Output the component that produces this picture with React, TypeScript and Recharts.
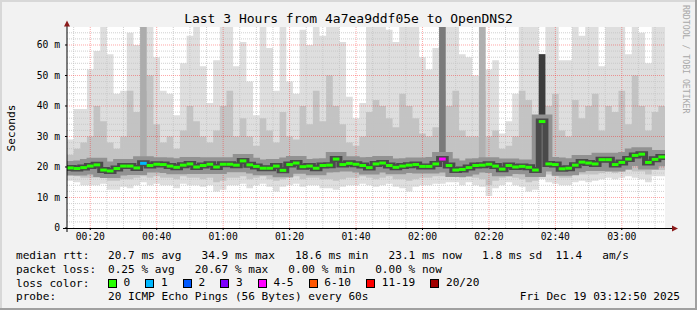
import React from 'react';
import {
  ComposedChart,
  Area,
  Line,
  XAxis,
  YAxis,
  CartesianGrid,
  ReferenceLine,
  ReferenceArea,
} from 'recharts';

// minutes since 00:00 of first sample, sample step (minutes)
const START_MIN = 13;
const STEP_MIN = 2;

const median = [
  19.7, 19.5, 19.8, 20.3, 20.7, 19.0, 18.7, 19.5, 20.3, 20.3,
  19.7, 21.2, 20.5, 20.9, 20.8, 20.3, 19.9, 20.6, 21.0, 20.0,
  20.5, 20.9, 20.0, 20.9, 20.9, 20.6, 22.0, 20.7, 20.2, 19.6,
  19.6, 20.3, 18.9, 20.8, 21.3, 20.1, 20.3, 19.6, 20.5, 20.6,
  22.6, 20.8, 21.2, 20.9, 20.5, 19.8, 21.0, 21.3, 20.5, 19.9,
  20.3, 20.6, 20.8, 20.2, 20.2, 21.0, 22.6, 20.5, 19.0, 19.2,
  19.8, 20.5, 20.6, 20.9, 20.3, 19.3, 20.5, 20.0, 20.2, 19.9,
  19.0, 34.9, 21.0, 20.8, 19.4, 19.6, 20.6, 21.6, 21.3, 21.0,
  22.4, 22.4, 20.8, 21.5, 22.6, 23.8, 24.2, 21.5, 22.5, 23.3,
];

const smokeMax = [
  29, 39, 39, 52, 58, 66, 57, 44, 45, 64,
  60, 66, 66, 56, 45, 44, 37, 54, 63, 66,
  53, 41, 55, 66, 66, 53, 61, 48, 37, 66,
  59, 45, 66, 48, 44, 65, 60, 66, 63, 66,
  66, 61, 43, 36, 41, 66, 66, 66, 65, 61,
  66, 66, 66, 56, 52, 59, 66, 66, 66, 57,
  56, 50, 66, 52, 55, 31, 35, 44, 66, 66,
  66, 57, 66, 66, 55, 55, 66, 63, 66, 66,
  53, 66, 66, 66, 57, 66, 64, 54, 66, 66,
];

const smokeHigh = [
  24, 26, 28, 30, 40, 35, 28, 26, 30, 45,
  38, 45, 50, 34, 28, 30, 26, 32, 40, 35,
  30, 28, 32, 40, 45, 30, 36, 30, 27, 36,
  32, 28, 38, 30, 29, 40, 34, 45, 35, 50,
  40, 34, 28, 27, 30, 38, 42, 40, 36, 33,
  44, 40, 36, 31, 30, 33, 45, 40, 45, 32,
  30, 30, 45, 30, 32, 26, 27, 30, 45, 42,
  36, 50, 40, 44, 32, 30, 42, 36, 40, 44,
  32, 40, 38, 45, 34, 50, 40, 32, 38, 40,
];

const smokeLow = [
  17.5, 17, 16.5, 16.5, 16.5, 16.5, 15.5, 15.5, 16, 16,
  16.5, 17, 16.5, 17, 16.5, 16.5, 16, 17, 16.5, 16.5,
  16, 16.5, 15, 15.5, 16.5, 16.5, 17, 16, 16.5, 17,
  16, 15.5, 16, 16.5, 17, 16, 16.5, 16.5, 16, 16,
  15.5, 16, 16.5, 16.5, 17, 16.5, 16, 16.5, 17, 16,
  16, 15.5, 16, 16.5, 16.5, 17, 17, 17.5, 17, 16.5,
  17, 16.5, 16, 14, 15.5, 16.5, 17, 16.5, 16, 15,
  15.5, 18, 17.5, 17, 16.5, 16.5, 17.5, 17.5, 17.5, 17.5,
  18, 18.5, 18, 18.5, 19, 18.5, 18.5, 17.5, 19, 19,
];

const smokeMin = [
  15.5, 15, 14, 14, 14, 14.5, 12.5, 12.5, 13.5, 13,
  14, 15, 14, 14.5, 14, 14, 13, 14.5, 14, 14,
  13.5, 14, 12, 12.5, 14, 14, 14.5, 13, 14, 14.5,
  13.5, 12, 13.5, 14, 14.5, 13.5, 14, 14, 13, 13,
  12.5, 13.5, 14, 14, 14.5, 14, 13.5, 14, 14.5, 13.5,
  13, 12, 13.5, 14, 14, 14.5, 14.5, 15, 15, 14,
  15, 14, 13.5, 10.5, 13, 14, 15, 14, 13.5, 12,
  12.5, 16, 15, 14.5, 14, 14, 15, 15.5, 15, 15.5,
  16, 16.5, 16, 16.5, 17, 16.5, 16, 15, 17, 17,
];

// samples with packet loss (sample index, lost pings)
const lossEvents = [
  { index: 11, loss: 1 },
  { index: 56, loss: 4 },
];

// columns where the smoke is darker
const darkColumns = [
  { index: 11, low: 22, high: 66, color: '#acacac' },
  { index: 56, low: 21, high: 66, color: '#7a7a7a' },
  { index: 62, low: 22, high: 66, color: '#b0b0b0' },
  { index: 71, low: 17, high: 57, color: '#3c3c3c' },
];

const lossBuckets = [
  { label: '0', max: 0, color: '#26ff00' },
  { label: '1', max: 1, color: '#00b8ff' },
  { label: '2', max: 2, color: '#0059ff' },
  { label: '3', max: 3, color: '#7e00ff' },
  { label: '4-5', max: 5, color: '#ff00ff' },
  { label: '6-10', max: 10, color: '#ff5500' },
  { label: '11-19', max: 19, color: '#ff0000' },
  { label: '20/20', max: 20, color: '#a00000' },
];

const xTickValues = [20, 40, 60, 80, 100, 120, 140, 160, 180];
const xTickLabels = ['00:20', '00:40', '01:00', '01:20', '01:40', '02:00', '02:20', '02:40', '03:00'];
const yTickValues = [0, 10, 20, 30, 40, 50, 60];
const yTickLabels = ['0', '10 m', '20 m', '30 m', '40 m', '50 m', '60 m'];

const titleText = 'Last 3 Hours from 4a7ea9ddf05e to OpenDNS2';
const statsRtt = '20.7 ms avg   34.9 ms max   18.6 ms min   23.1 ms now   1.8 ms sd  11.4   am/s';
const statsLoss = '0.25 % avg   20.67 % max   0.00 % min   0.00 % now';
const probeText = '20 ICMP Echo Pings (56 Bytes) every 60s';
const dateText = 'Fri Dec 19 03:12:50 2025';

const X_DOMAIN: [number, number] = [START_MIN, START_MIN + median.length * STEP_MIN];
const Y_MAX = 65.9;

const lossOf = (i: number) => {
  const e = lossEvents.find((l) => l.index === i);
  return e ? e.loss : 0;
};
const colorForLoss = (n: number) => {
  const b = lossBuckets.find((x) => n <= x.max);
  return b ? b.color : lossBuckets[lossBuckets.length - 1].color;
};

const rows = median.map((m, i) => ({
  t: START_MIN + i * STEP_MIN,
  median: m,
  smokeMin: smokeMin[i],
  smokeLow: smokeLow[i],
  smokeHigh: smokeHigh[i],
  smokeMax: smokeMax[i],
  loss: lossOf(i),
}));
// closing row so step shapes run to the right edge
const data = [...rows, { ...rows[rows.length - 1], t: X_DOMAIN[1] }];

const minorY: number[] = [];
for (let v = 2; v < Y_MAX; v += 2) if (v % 10 !== 0) minorY.push(v);
const majorY = [10, 20, 30, 40, 50, 60];
const minorX: number[] = [];
for (let v = 15; v < X_DOMAIN[1]; v += 5) if (v % 20 !== 0) minorX.push(v);

const MONO = '"DejaVu Sans Mono", monospace';

export default function App() {
  return (
    <div
      style={{
        position: 'relative',
        width: 697,
        height: 310,
        background: '#f2f2f2',
        boxSizing: 'border-box',
        fontFamily: MONO,
      }}
    >
      <style>{`body{margin:0}`}</style>
      <div style={{ position: 'absolute', left: 0, top: 0 }}>
        <ComposedChart
          width={697}
          height={310}
          data={data}
          margin={{ top: 27, right: 32, bottom: 62, left: 7 }}
        >
          <CartesianGrid fill="#ffffff" horizontal={false} vertical={false} />
          <XAxis
            dataKey="t"
            type="number"
            domain={X_DOMAIN}
            ticks={xTickValues}
            tickFormatter={(v: number) => xTickLabels[xTickValues.indexOf(v)] ?? ''}
            axisLine={false}
            tickLine={{ stroke: '#000' }}
            tickSize={2}
            tickMargin={3}
            height={20}
            tick={{ fontFamily: MONO, fontSize: 9.7, fill: '#000' }}
            allowDataOverflow
          />
          <YAxis
            type="number"
            domain={[0, Y_MAX]}
            ticks={yTickValues}
            tickFormatter={(v: number) => yTickLabels[yTickValues.indexOf(v)] ?? ''}
            axisLine={false}
            tickLine={{ stroke: '#000' }}
            tickSize={2}
            tickMargin={5}
            width={60}
            tick={{ fontFamily: MONO, fontSize: 9.7, fill: '#000' }}
            allowDataOverflow
          />
          <Area
            dataKey={(d: any) => [d.smokeMin, d.smokeMax]}
            type="stepAfter"
            stroke="none"
            fill="#dedede"
            fillOpacity={1}
            isAnimationActive={false}
            dot={false}
            activeDot={false}
          />
          <Area
            dataKey={(d: any) => [d.smokeLow, d.smokeHigh]}
            type="stepAfter"
            stroke="none"
            fill="#c3c3c3"
            fillOpacity={1}
            isAnimationActive={false}
            dot={false}
            activeDot={false}
          />
          {minorY.map((v) => (
            <ReferenceLine key={'my' + v} y={v} stroke="#c4c4c4" strokeDasharray="1 1" strokeOpacity={0.8} zIndex={200} />
          ))}
          {minorX.map((v) => (
            <ReferenceLine key={'mx' + v} x={v} stroke="#c4c4c4" strokeDasharray="1 1" strokeOpacity={0.8} zIndex={200} />
          ))}
          {majorY.map((v) => (
            <ReferenceLine key={'My' + v} y={v} stroke="#ff0000" strokeDasharray="1 1" strokeOpacity={0.35} zIndex={210} />
          ))}
          {xTickValues.map((v) => (
            <ReferenceLine key={'Mx' + v} x={v} stroke="#ff0000" strokeDasharray="1 1" strokeOpacity={0.35} zIndex={210} />
          ))}
          {darkColumns.map((c) => (
            <ReferenceArea
              key={'dk' + c.index}
              x1={START_MIN + c.index * STEP_MIN}
              x2={START_MIN + (c.index + 1) * STEP_MIN}
              y1={c.low}
              y2={Math.min(c.high, Y_MAX)}
              fill={c.color}
              fillOpacity={1}
              stroke="none"
              ifOverflow="hidden"
              zIndex={250}
            />
          ))}
          <Line
            dataKey="median"
            type="stepAfter"
            stroke="#929292"
            strokeWidth={14}
            dot={false}
            activeDot={false}
            isAnimationActive={false}
          />
          <Line
            dataKey="median"
            type="stepAfter"
            stroke="#4a4a4a"
            strokeWidth={6}
            dot={false}
            activeDot={false}
            isAnimationActive={false}
          />
          {rows.map((r, i) => (
            <ReferenceLine
              key={'med' + i}
              segment={[
                { x: r.t, y: r.median },
                { x: r.t + STEP_MIN, y: r.median },
              ]}
              stroke={colorForLoss(r.loss)}
              strokeWidth={3}
              ifOverflow="visible"
              zIndex={450}
            />
          ))}
        </ComposedChart>
      </div>
      <svg
        width={697}
        height={310}
        style={{ position: 'absolute', left: 0, top: 0, pointerEvents: 'none' }}
      >
        {/* frame shading */}
        <rect x={0} y={0} width={697} height={2} fill="#d8d8d8" />
        <rect x={0} y={0} width={2} height={310} fill="#d8d8d8" />
        <rect x={0} y={308} width={697} height={2} fill="#a0a0a0" />
        <rect x={695} y={0} width={2} height={310} fill="#a0a0a0" />
        {/* axes with arrows */}
        <line x1={67} y1={232} x2={67} y2={24} stroke="#000" strokeWidth={1} />
        <polygon points="64,26.5 70,26.5 67,20.5" fill="#8b1a1a" />
        <line x1={63} y1={228.5} x2={673} y2={228.5} stroke="#000" strokeWidth={1} />
        <polygon points="672,225.5 672,231.5 678,228.5" fill="#8b1a1a" />
        {/* title */}
        <text x={348.5} y={23} textAnchor="middle" fontFamily={MONO} fontSize={13} fill="#000">
          {titleText}
        </text>
        <text
          transform="translate(14.5,128) rotate(-90)"
          textAnchor="middle"
          fontFamily={MONO}
          fontSize={11.1}
          fill="#000"
        >
          Seconds
        </text>
        <text
          transform="translate(683,5) rotate(90)"
          fontFamily={MONO}
          fontSize={8.2}
          fill="#a8a8a8"
        >
          RRDTOOL / TOBI OETIKER
        </text>
        {/* legend */}
        <g fontFamily={MONO} fontSize={11.1} fill="#000" style={{ whiteSpace: 'pre' }}>
          <text x={16} y={259}>median rtt:</text>
          <text x={108} y={259} xmlSpace="preserve">{statsRtt}</text>
          <text x={16} y={272.8}>packet loss:</text>
          <text x={108} y={272.8} xmlSpace="preserve">{statsLoss}</text>
          <text x={16} y={286.5}>loss color:</text>
          <text x={16} y={300.2}>probe:</text>
          <text x={108} y={300.2} xmlSpace="preserve">{probeText}</text>
          <text x={680} y={300.2} textAnchor="end">{dateText}</text>
        </g>
      </svg>
      <div
        style={{
          position: 'absolute',
          left: 108,
          top: 278,
          height: 10,
          display: 'flex',
          alignItems: 'center',
          fontFamily: MONO,
          fontSize: 11.1,
          lineHeight: '10px',
          whiteSpace: 'pre',
        }}
      >
        {lossBuckets.map((b) => (
          <div key={b.label} style={{ display: 'flex', alignItems: 'center', marginRight: 15.2 }}>
            <div
              style={{
                width: 9,
                height: 9,
                boxSizing: 'border-box',
                border: '1px solid #000',
                background: b.color,
                marginRight: 6.6,
              }}
            />
            <span>{b.label}</span>
          </div>
        ))}
      </div>
    </div>
  );
}
